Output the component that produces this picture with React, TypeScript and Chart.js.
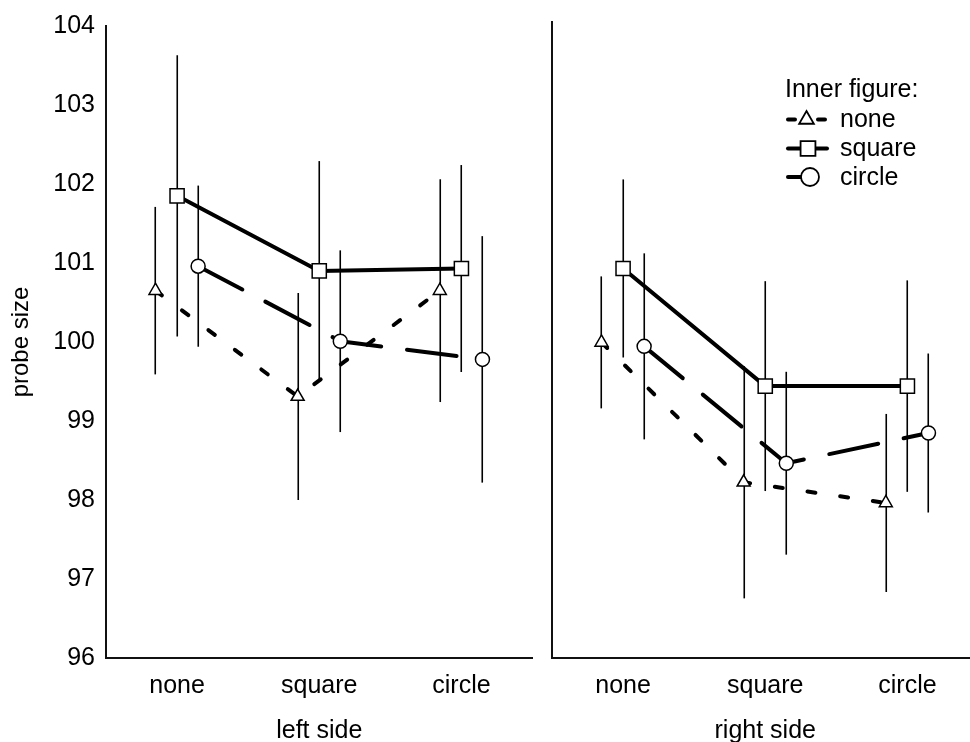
import React, { useEffect, useRef } from 'react';
import { Chart, registerables } from 'chart.js';

Chart.register(...registerables);

// ---------- data ----------
const categories = ['none', 'square', 'circle'];
const seriesNames = ['none', 'square', 'circle'];
const yTicks = [96, 97, 98, 99, 100, 101, 102, 103, 104];
const yTitle = 'probe size';
const panelTitles = ['left side', 'right side'];
const legendTitle = 'Inner figure:';

// left side: means and half-widths of error bars
const leftNoneMean = [100.65, 99.31, 100.65];
const leftNoneErr = [1.06, 1.31, 1.41];
const leftSquareMean = [101.85, 100.9, 100.93];
const leftSquareErr = [1.78, 1.39, 1.31];
const leftCircleMean = [100.96, 100.01, 99.78];
const leftCircleErr = [1.02, 1.15, 1.56];

// right side
const rightNoneMean = [99.97, 98.21, 97.95];
const rightNoneErr = [0.83, 1.46, 1.12];
const rightSquareMean = [100.9, 99.42, 99.42];
const rightSquareErr = [1.12, 1.32, 1.33];
const rightCircleMean = [99.92, 98.45, 98.83];
const rightCircleErr = [1.17, 1.15, 1.0];

// ---------- styles ----------
const FONT = '"Liberation Sans", Arial, Helvetica, sans-serif';
const dodge = [-0.152, 0, 0.148];
const dashes: number[][] = [[8, 25], [], [50, 26]];
const pointStyles = ['triangle', 'rect', 'circle'];
const pointRadii = [7.5, 10, 7];

function makeDatasets(means: number[][], errs: number[][]) {
  return means.map((m, s) => ({
    label: seriesNames[s],
    data: m.map((v, i) => ({ x: i + dodge[s], y: v })),
    errors: errs[s],
    borderColor: '#000',
    borderWidth: 4,
    borderDash: dashes[s],
    borderCapStyle: 'round',
    borderJoinStyle: 'round',
    pointStyle: pointStyles[s],
    pointRadius: pointRadii[s],
    pointHoverRadius: pointRadii[s],
    pointBackgroundColor: '#fff',
    pointBorderColor: '#000',
    pointBorderWidth: 1.5,
    tension: 0,
    fill: false,
  }));
}

const errorBarPlugin = {
  id: 'errorBars',
  beforeDatasetsDraw(chart: any) {
    const { ctx, scales } = chart;
    const x = scales.x;
    const y = scales.y;
    ctx.save();
    ctx.strokeStyle = '#000';
    ctx.lineWidth = 1.6;
    chart.data.datasets.forEach((ds: any) => {
      ds.data.forEach((p: any, i: number) => {
        const e = ds.errors[i];
        const px = Math.round(x.getPixelForValue(p.x)) + 0.25;
        ctx.beginPath();
        ctx.moveTo(px, y.getPixelForValue(p.y - e));
        ctx.lineTo(px, y.getPixelForValue(p.y + e));
        ctx.stroke();
      });
    });
    ctx.restore();
  },
};

function drawMarker(ctx: CanvasRenderingContext2D, style: string, cx: number, cy: number, r: number) {
  ctx.beginPath();
  if (style === 'triangle') {
    ctx.moveTo(cx, cy - r);
    ctx.lineTo(cx + r * Math.sin((2 * Math.PI) / 3), cy - r * Math.cos((2 * Math.PI) / 3));
    ctx.lineTo(cx + r * Math.sin((4 * Math.PI) / 3), cy - r * Math.cos((4 * Math.PI) / 3));
    ctx.closePath();
  } else if (style === 'rect') {
    const h = r * Math.SQRT1_2;
    ctx.rect(cx - h, cy - h, 2 * h, 2 * h);
  } else {
    ctx.arc(cx, cy, r, 0, Math.PI * 2);
  }
  ctx.fillStyle = '#fff';
  ctx.fill();
  ctx.lineWidth = 1.8;
  ctx.strokeStyle = '#000';
  ctx.stroke();
}

const legendPlugin = {
  id: 'innerLegend',
  afterDraw(chart: any) {
    const ctx: CanvasRenderingContext2D = chart.ctx;
    const area = chart.chartArea;
    const x0 = area.left + 233; // left edge of legend
    const yTitleBase = area.top + 75;
    ctx.save();
    ctx.font = `25px ${FONT}`;
    ctx.fillStyle = '#000';
    ctx.textBaseline = 'alphabetic';
    ctx.textAlign = 'left';
    ctx.fillText(legendTitle, x0, yTitleBase);
    const rowY = [area.top + 97.5, area.top + 126.5, area.top + 155];
    const markerR = [8.5, 10.5, 9];
    const markerX = [x0 + 21.5, x0 + 23, x0 + 25];
    seriesNames.forEach((name, s) => {
      const cy = rowY[s];
      ctx.strokeStyle = '#000';
      ctx.lineWidth = 4;
      ctx.lineCap = 'round';
      ctx.setLineDash([]);
      ctx.beginPath();
      if (s === 0) {
        ctx.moveTo(x0 + 3, cy);
        ctx.lineTo(x0 + 10, cy);
        ctx.moveTo(x0 + 33, cy);
        ctx.lineTo(x0 + 40, cy);
      } else if (s === 1) {
        ctx.moveTo(x0 + 3, cy);
        ctx.lineTo(x0 + 42, cy);
      } else {
        ctx.moveTo(x0 + 3, cy);
        ctx.lineTo(x0 + 18, cy);
      }
      ctx.stroke();
      drawMarker(ctx, pointStyles[s], markerX[s], cy, markerR[s]);
      ctx.fillStyle = '#000';
      ctx.fillText(name, x0 + 55, cy + 7.5);
    });
    ctx.restore();
  },
};

function makeConfig(
  means: number[][],
  errs: number[][],
  title: string,
  showY: boolean,
  yWidth: number,
  padRight: number,
  withLegend: boolean
): any {
  return {
    type: 'line',
    data: { datasets: makeDatasets(means, errs) },
    plugins: withLegend ? [errorBarPlugin, legendPlugin] : [errorBarPlugin],
    options: {
      animation: false,
      responsive: false,
      events: [],
      layout: { padding: { top: 22, right: padRight, bottom: 0, left: 0 } },
      plugins: { legend: { display: false }, tooltip: { enabled: false } },
      scales: {
        x: {
          type: 'linear',
          min: -0.5,
          max: 2.5,
          afterBuildTicks: (s: any) => {
            s.ticks = categories.map((_, i) => ({ value: i }));
          },
          ticks: {
            callback: (v: any) => categories[v] ?? '',
            font: { size: 25, family: FONT },
            color: '#000',
            padding: 13,
            maxRotation: 0,
            autoSkip: false,
          },
          grid: { display: false, drawTicks: false, tickLength: 0 },
          border: { display: true, color: '#111', width: 2 },
          title: {
            display: true,
            text: title,
            font: { size: 25, family: FONT },
            color: '#000',
            padding: { top: 0, bottom: -4 },
          },
          afterFit: (s: any) => {
            s.height = 84;
          },
        },
        y: {
          min: 96,
          max: 104,
          afterBuildTicks: (s: any) => {
            s.ticks = yTicks.map((v) => ({ value: v }));
          },
          ticks: {
            display: showY,
            font: { size: 25, family: FONT },
            color: '#000',
            padding: 11,
          },
          grid: { display: false, drawTicks: false, tickLength: 0 },
          border: { display: true, color: '#111', width: 2 },
          title: {
            display: showY,
            text: yTitle,
            font: { size: 24, family: FONT },
            color: '#000',
            padding: { top: 7, bottom: 0 },
          },
          afterFit: (s: any) => {
            s.width = yWidth;
          },
        },
      },
    },
  };
}

export default function App() {
  const leftRef = useRef<HTMLCanvasElement>(null);
  const rightRef = useRef<HTMLCanvasElement>(null);

  useEffect(() => {
    Chart.defaults.font.family = FONT;
    const left = new Chart(
      leftRef.current as HTMLCanvasElement,
      makeConfig(
        [leftNoneMean, leftSquareMean, leftCircleMean],
        [leftNoneErr, leftSquareErr, leftCircleErr],
        panelTitles[0],
        true,
        106,
        0,
        false
      )
    );
    const right = new Chart(
      rightRef.current as HTMLCanvasElement,
      makeConfig(
        [rightNoneMean, rightSquareMean, rightCircleMean],
        [rightNoneErr, rightSquareErr, rightCircleErr],
        panelTitles[1],
        false,
        12,
        0,
        true
      )
    );
    return () => {
      left.destroy();
      right.destroy();
    };
  }, []);

  return (
    <div
      style={{
        position: 'fixed',
        left: 0,
        top: 0,
        width: 970,
        height: 742,
        overflow: 'hidden',
        background: '#fff',
      }}
    >
      <canvas
        ref={leftRef}
        width={544}
        height={742}
        style={{ position: 'absolute', left: 0, top: 0, width: 544, height: 742 }}
      />
      <canvas
        ref={rightRef}
        width={450}
        height={742}
        style={{ position: 'absolute', left: 540, top: 0, width: 450, height: 742 }}
      />
    </div>
  );
}
